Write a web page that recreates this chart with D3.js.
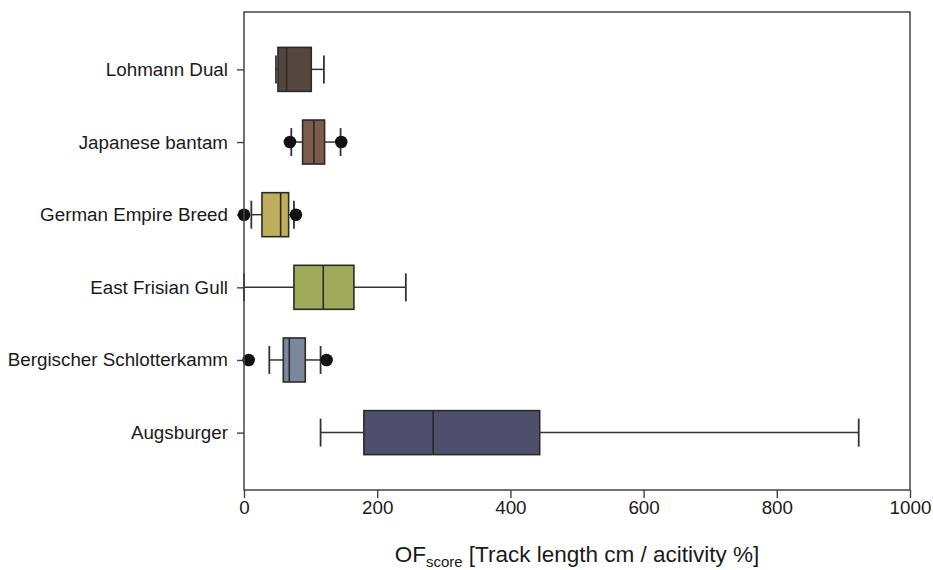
<!DOCTYPE html>
<html>
<head>
<meta charset="utf-8">
<script src="https://cdn.jsdelivr.net/npm/d3@7"></script>
<style>
  html, body { margin: 0; padding: 0; background: #fff; }
  svg { display: block; font-family: "Liberation Sans", Arial, sans-serif; }
</style>
</head>
<body>
<svg id="chart" width="933" height="570"></svg>
<script>
// ---- data (top to bottom) ----
const categories = ["Lohmann Dual", "Japanese bantam", "German Empire Breed", "East Frisian Gull", "Bergischer Schlotterkamm", "Augsburger"];
const whiskerLow  = [48, 71, 11, 0, 38, 115];
const q1          = [51, 88, 27, 75, 59, 180];
const median      = [64, 105, 55, 119, 68, 284];
const q3          = [101, 121, 67, 165, 92, 444];
const whiskerHigh = [120, 145, 75, 243, 115, 923];
const outliers    = [[], [69, 146], [0, 78], [], [7, 124], []];
const colors      = ["#55473d", "#7b5c4b", "#bfaf5d", "#9fab59", "#7c869d", "#4f4f6d"];
const xTicks      = [0, 200, 400, 600, 800, 1000];
const xDomain     = [0, 1000];

// ---- layout ----
const svg = d3.select("#chart");
const frame = { left: 244, right: 910, top: 12, bottom: 490 };

const x = d3.scaleLinear().domain(xDomain).range([frame.left, frame.right]);
const y = d3.scalePoint().domain(categories).range([frame.top, frame.bottom]).padding(0.79);

const boxH = 44, capH = 28, dotR = 6.3;
const stroke = "#333";

const data = categories.map((c, i) => ({
  cat: c, lo: whiskerLow[i], q1: q1[i], med: median[i], q3: q3[i], hi: whiskerHigh[i],
  out: outliers[i], color: colors[i]
}));

// axes
const xAxis = d3.axisBottom(x).tickValues(xTicks).tickFormat(d3.format("d"))
  .tickSize(8).tickPadding(3).tickSizeOuter(0);
const gx = svg.append("g").attr("transform", `translate(0,${frame.bottom})`).call(xAxis);
gx.select(".domain").remove();
gx.selectAll(".tick line").attr("stroke", "#444").attr("stroke-width", 1.4);
gx.selectAll(".tick text").attr("font-size", "18.8px").attr("fill", "#1a1a1a")
  .attr("font-family", "Liberation Sans, Arial, sans-serif");

const yAxis = d3.axisLeft(y).tickSize(7).tickPadding(9).tickSizeOuter(0);
const gy = svg.append("g").attr("transform", `translate(${frame.left},0)`).call(yAxis);
gy.select(".domain").remove();
gy.selectAll(".tick line").attr("stroke", "#444").attr("stroke-width", 1.4);
gy.selectAll(".tick text").attr("font-size", "18.8px").attr("fill", "#1a1a1a")
  .attr("font-family", "Liberation Sans, Arial, sans-serif");

// boxes
const g = svg.append("g");
const row = g.selectAll("g.row").data(data).join("g").attr("class", "row")
  .attr("transform", d => `translate(0,${y(d.cat)})`);

// whisker lines
row.append("line").attr("x1", d => x(d.lo)).attr("x2", d => x(d.q1))
  .attr("stroke", stroke).attr("stroke-width", 1.5);
row.append("line").attr("x1", d => x(d.q3)).attr("x2", d => x(d.hi))
  .attr("stroke", stroke).attr("stroke-width", 1.5);
// caps
row.append("line").attr("x1", d => x(d.lo)).attr("x2", d => x(d.lo))
  .attr("y1", -capH / 2).attr("y2", capH / 2).attr("stroke", stroke).attr("stroke-width", 1.8);
row.append("line").attr("x1", d => x(d.hi)).attr("x2", d => x(d.hi))
  .attr("y1", -capH / 2).attr("y2", capH / 2).attr("stroke", stroke).attr("stroke-width", 1.8);
// box
row.append("rect").attr("x", d => x(d.q1)).attr("width", d => x(d.q3) - x(d.q1))
  .attr("y", -boxH / 2).attr("height", boxH)
  .attr("fill", d => d.color).attr("stroke", "#2a2a2a").attr("stroke-width", 1.6);
// median
row.append("line").attr("x1", d => x(d.med)).attr("x2", d => x(d.med))
  .attr("y1", -boxH / 2).attr("y2", boxH / 2).attr("stroke", "#2a2a2a").attr("stroke-width", 1.6);
// outliers
row.selectAll("circle").data(d => d.out).join("circle")
  .attr("cx", v => x(v)).attr("cy", 0).attr("r", dotR).attr("fill", "#111");

// frame
svg.append("rect").attr("x", frame.left).attr("y", frame.top)
  .attr("width", frame.right - frame.left).attr("height", frame.bottom - frame.top)
  .attr("fill", "none").attr("stroke", "#444").attr("stroke-width", 1.5);

// x-axis title
const title = svg.append("text").attr("x", (frame.left + frame.right) / 2).attr("y", 562)
  .attr("text-anchor", "middle").attr("font-size", "22.5px").attr("fill", "#1a1a1a");
title.append("tspan").text("OF");
title.append("tspan").attr("font-size", "15px").attr("dy", 5).text("score");
title.append("tspan").attr("dy", -5).text(" [Track length cm / acitivity %]");
</script>
</body>
</html>
